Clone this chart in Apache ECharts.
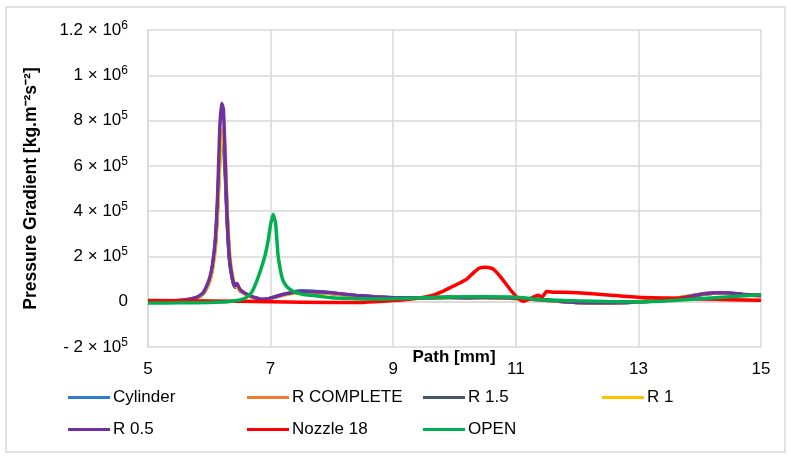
<!DOCTYPE html>
<html>
<head>
<meta charset="utf-8">
<script src="https://cdn.jsdelivr.net/npm/echarts@6/dist/echarts.min.js"></script>
<style>
  html, body { margin: 0; padding: 0; background: #fff; }
  #chart { width: 791px; height: 460px; }
</style>
</head>
<body>
<div id="chart"></div>
<script>
// path positions [mm]
const famX = [5.0, 5.3, 5.6, 5.8, 5.9, 6.0, 6.05, 6.1, 6.14, 6.17,
  6.2, 6.23, 6.26, 6.29, 6.33, 6.38, 6.42, 6.45, 6.5, 6.58,
  6.66, 6.75, 6.85, 6.95, 7.05, 7.2, 7.35, 7.5, 7.7, 7.9,
  8.1, 8.4, 8.7, 9.0, 9.3, 9.6, 9.9, 10.2, 10.5, 10.8,
  11.1, 11.4, 11.7, 12.0, 12.4, 12.8, 13.2, 13.5, 13.8, 14.1,
  14.3, 14.5, 14.7, 15.0]

const cylinderVals = [2000, 3000, 7000, 18000, 36000, 90000, 150000, 260000, 450000, 640000,
  700000, 690000, 560000, 360000, 180000, 95000, 65000, 70000, 50000, 36000,
  26000, 17000, 10000, 12000, 20000, 32000, 42000, 48000, 46000, 42000,
  35000, 27000, 21000, 18000, 17000, 18000, 20000, 18000, 19000, 17000,
  14000, 8000, 2000, -3000, -5000, -3000, 2000, 9000, 22000, 34000,
  38000, 36000, 32000, 27000]

const rCompleteVals = [2000, 3000, 7000, 19000, 37000, 92000, 150000, 265000, 460000, 660000,
  730000, 740000, 600000, 390000, 195000, 100000, 66000, 72000, 52000, 36000,
  26000, 17000, 10000, 11000, 19000, 30000, 39000, 43000, 42000, 40000,
  34000, 27000, 21000, 17000, 16000, 17000, 19000, 18000, 19000, 16000,
  14000, 8000, 2000, -3000, -5000, -3000, 3000, 10000, 24000, 36000,
  39000, 37000, 32000, 27000]

const rOneFiveVals = [2000, 3000, 7000, 18000, 35000, 88000, 145000, 255000, 440000, 630000,
  705000, 720000, 590000, 380000, 190000, 98000, 64000, 68000, 50000, 35000,
  25000, 16000, 9000, 11000, 19000, 30000, 38000, 42000, 41000, 39000,
  33000, 26000, 20000, 17000, 16000, 17000, 19000, 18000, 19000, 16000,
  14000, 8000, 2000, -3000, -5000, -3000, 2000, 9000, 22000, 34000,
  38000, 36000, 31000, 26000]

const rOneVals = [2000, 3000, 7000, 18000, 35000, 85000, 140000, 240000, 420000, 600000,
  720000, 765000, 660000, 430000, 220000, 110000, 70000, 65000, 50000, 35000,
  25000, 16000, 9000, 10000, 18000, 28000, 36000, 40000, 40000, 38000,
  33000, 26000, 20000, 17000, 16000, 17000, 19000, 18000, 19000, 16000,
  14000, 8000, 2000, -3000, -5000, -3000, 3000, 10000, 24000, 35000,
  38000, 36000, 31000, 26000]

const rHalfVals = [2000, 3000, 8000, 20000, 40000, 100000, 160000, 280000, 500000, 760000,
  876000, 850000, 620000, 380000, 190000, 100000, 70000, 80000, 55000, 38000,
  27000, 18000, 10000, 12000, 20000, 32000, 40000, 45000, 44000, 42000,
  36000, 28000, 22000, 18000, 17000, 18000, 20000, 18000, 20000, 17000,
  15000, 9000, 3000, -3000, -5000, -3000, 2000, 8000, 22000, 36000,
  40000, 38000, 33000, 27000]

const nozzleX = [5.0, 6.0, 7.0, 8.0, 8.5, 9.0, 9.3, 9.6, 9.8, 9.95,
  10.1, 10.2, 10.3, 10.4, 10.5, 10.6, 10.65, 10.75, 10.85, 10.95,
  11.05, 11.12, 11.2, 11.3, 11.36, 11.43, 11.5, 11.6, 11.8, 12.0,
  12.5, 13.0, 13.5, 14.0, 14.5, 15.0]
const nozzleVals = [5000, 3000, 0, -4000, -3000, 5000, 12000, 25000, 45000, 65000,
  85000, 100000, 125000, 148000, 152000, 148000, 140000, 110000, 75000, 40000,
  12000, 2000, 10000, 22000, 28000, 20000, 45000, 42000, 42000, 40000,
  30000, 20000, 16000, 12000, 9000, 6000]

const openX = [5.0, 5.5, 6.0, 6.3, 6.5, 6.6, 6.7, 6.78, 6.85, 6.91,
  6.96, 7.0, 7.04, 7.08, 7.12, 7.16, 7.2, 7.25, 7.3, 7.4,
  7.5, 7.6, 7.8, 8.0, 8.3, 8.6, 9.0, 9.5, 10.0, 10.5,
  11.0, 11.4, 12.0, 12.5, 13.0, 13.5, 14.0, 14.5, 15.0]
const openVals = [-6000, -5000, -3000, 0, 8000, 18000, 45000, 95000, 150000, 205000,
  270000, 340000, 385000, 350000, 210000, 140000, 95000, 72000, 58000, 42000,
  34000, 30000, 24000, 18000, 14000, 12000, 13000, 18000, 21000, 22000,
  20000, 10000, 4000, 1000, 0, 4000, 13000, 22000, 31000]

const seriesNames = ['Cylinder', 'R COMPLETE', 'R 1.5', 'R 1', 'R 0.5', 'Nozzle 18', 'OPEN']
const seriesColors = ['#2E7BD3', '#ED7D31', '#44546A', '#FFC000', '#7030A0', '#FF0000', '#00B050']
const seriesX = [famX, famX, famX, famX, famX, nozzleX, openX]
const seriesY = [cylinderVals, rCompleteVals, rOneFiveVals, rOneVals, rHalfVals, nozzleVals, openVals]

const yTicks = [-200000, 0, 200000, 400000, 600000, 800000, 1000000, 1200000]
const yTickText = ['- 2 × 10{s|5}', '0', '2 × 10{s|5}', '4 × 10{s|5}', '6 × 10{s|5}',
  '8 × 10{s|5}', '1 × 10{s|6}', '1.2 × 10{s|6}']

const font = 'Liberation Sans, Arial, sans-serif'
const gridColor = '#D9D9D9'

const legendLeft = [63, 242, 418, 597, 63, 242, 418]
const legendTop = [384, 384, 384, 384, 416, 416, 416]

const chart = echarts.init(document.getElementById('chart'), null, { renderer: 'canvas' })

const option = {
  backgroundColor: '#fff',
  animation: false,
  textStyle: { fontFamily: font },
  graphic: [{
    type: 'rect',
    shape: { x: 6, y: 7, width: 779, height: 445 },
    style: { fill: 'none', stroke: gridColor, lineWidth: 1.5 },
    silent: true
  }, {
    // x axis title sits under the plot, not under the zero line
    type: 'text',
    x: 454,
    y: 357,
    style: {
      text: 'Path [mm]',
      fontFamily: font,
      fontSize: 17,
      fontWeight: 'bold',
      fill: '#000',
      align: 'center',
      verticalAlign: 'middle'
    },
    silent: true
  }],
  grid: { left: 148, right: 30, top: 30, bottom: 113 },
  legend: seriesNames.map((name, i) => ({
    data: [name],
    left: legendLeft[i],
    top: legendTop[i],
    icon: 'rect',
    itemWidth: 42,
    itemHeight: 3,
    itemGap: 0,
    textStyle: { fontFamily: font, fontSize: 17, color: '#000', padding: [0, 0, 0, -2] }
  })),
  xAxis: {
    type: 'value',
    min: 5,
    max: 15,
    interval: 2,
    axisLine: { onZero: true, lineStyle: { color: gridColor, width: 1.5 } },
    axisTick: { show: false },
    axisLabel: { fontFamily: font, fontSize: 17, color: '#000', margin: 14 },
    splitLine: { show: true, lineStyle: { color: gridColor, width: 1.5 } }
  },
  yAxis: {
    type: 'value',
    min: -200000,
    max: 1200000,
    interval: 200000,
    name: 'Pressure Gradient [kg.m⁻²s⁻²]',
    nameLocation: 'middle',
    nameRotate: 90,
    nameGap: 108,
    nameTextStyle: { fontFamily: font, fontSize: 17.5, fontWeight: 'bold', color: '#000' },
    axisLine: { show: true, lineStyle: { color: gridColor, width: 1.5 } },
    axisTick: { show: false },
    axisLabel: {
      margin: 20,
      formatter: v => yTickText[yTicks.indexOf(v)] || '',
      fontFamily: font,
      fontSize: 17,
      color: '#000',
      rich: {
        s: { fontFamily: font, fontSize: 12, color: '#000', padding: [0, 0, 9, 0] }
      }
    },
    splitLine: { show: true, lineStyle: { color: gridColor, width: 1.5 } }
  },
  series: seriesNames.map((name, i) => ({
    name: name,
    type: 'line',
    showSymbol: false,
    symbol: 'none',
    smooth: 0.2,
    color: seriesColors[i],
    lineStyle: { width: 3.5, color: seriesColors[i] },
    data: seriesX[i].map((x, j) => [x, seriesY[i][j]])
  }))
}

chart.setOption(option)
</script>
</body>
</html>
